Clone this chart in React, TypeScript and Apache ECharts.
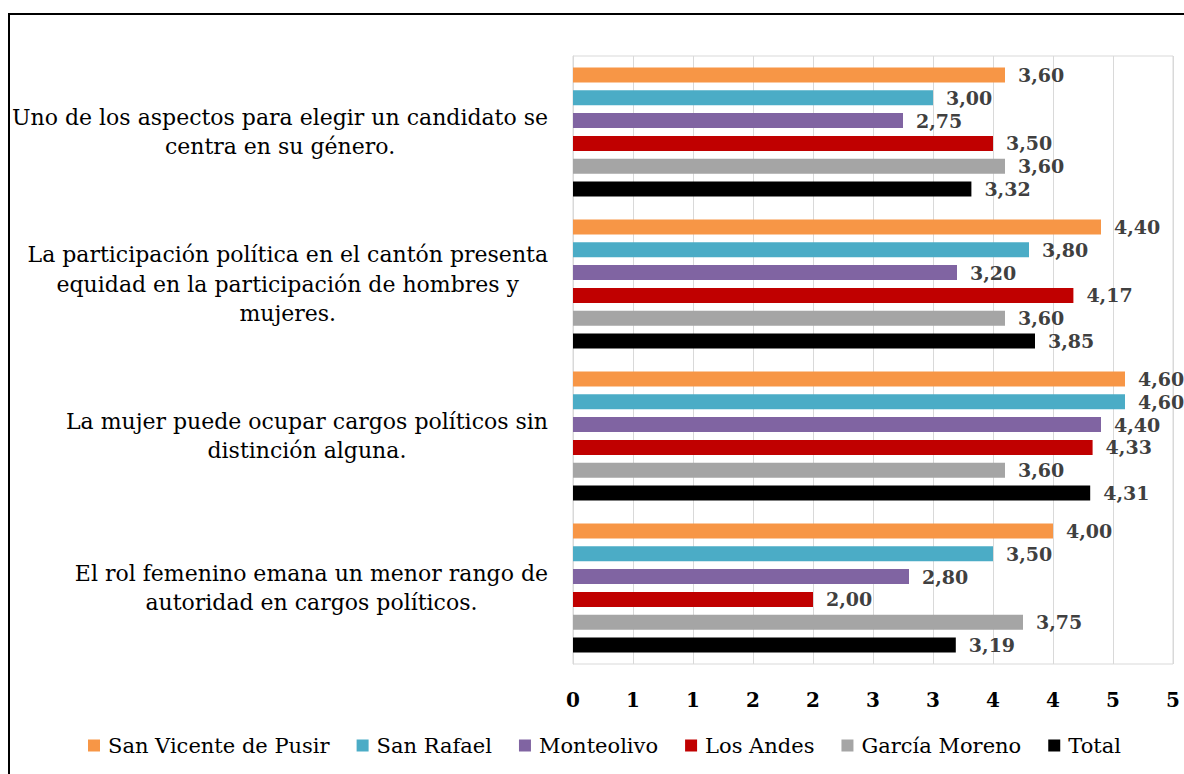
import React, { useEffect, useRef } from "react";
import * as echarts from "echarts";

const categories = [
  "Uno de los aspectos para elegir un candidato se\ncentra en su género.",
  "La participación política en el cantón presenta\nequidad en la participación de hombres y\nmujeres.",
  "La mujer puede ocupar cargos políticos sin\ndistinción alguna.",
  "El rol femenino emana un menor rango de\nautoridad en cargos políticos.",
];

const seriesNames = [
  "San Vicente de Pusir",
  "San Rafael",
  "Monteolivo",
  "Los Andes",
  "García Moreno",
  "Total",
];

const sanVicente = [3.6, 4.4, 4.6, 4.0];
const sanRafael = [3.0, 3.8, 4.6, 3.5];
const monteolivo = [2.75, 3.2, 4.4, 2.8];
const losAndes = [3.5, 4.17, 4.33, 2.0];
const garciaMoreno = [3.6, 3.6, 3.6, 3.75];
const total = [3.32, 3.85, 4.31, 3.19];

const seriesValues = [sanVicente, sanRafael, monteolivo, losAndes, garciaMoreno, total];
const colors = ["#F79646", "#4BACC6", "#8064A2", "#C00000", "#A5A5A5", "#000000"];

const FONT = "'DejaVu Serif', serif";

export default function App() {
  const ref = useRef<HTMLDivElement>(null);
  useEffect(() => {
    if (!ref.current) return;
    const chart = echarts.init(ref.current, undefined, { renderer: "svg" });
    chart.setOption({
      animation: false,
      backgroundColor: "#ffffff",
      graphic: [
        {
          type: "rect",
          shape: { x: 9, y: 14, width: 1400, height: 1000 },
          style: { fill: "none", stroke: "#000000", lineWidth: 2 },
          silent: true,
        },
      ],
      legend: {
        data: seriesNames,
        left: 83,
        top: 730,
        icon: "rect",
        itemWidth: 12,
        itemHeight: 12,
        itemGap: 27,
        textStyle: { fontFamily: FONT, fontSize: 21, color: "#000000", padding: [0, 0, 0, 3] },
      },
      grid: {
        left: 573,
        top: 56,
        width: 600,
        height: 608,
        show: true,
        borderColor: "#d9d9d9",
        borderWidth: 1,
      },
      xAxis: {
        type: "value",
        min: 0,
        max: 5,
        interval: 0.5,
        axisLine: { show: false },
        axisTick: { show: false },
        splitLine: { show: true, lineStyle: { color: "#d9d9d9", width: 1 } },
        axisLabel: {
          margin: 26,
          fontFamily: FONT,
          fontWeight: "bold",
          fontSize: 20,
          color: "#000000",
          formatter: (v: number) => String(Math.round(v)),
        },
      },
      yAxis: {
        type: "category",
        inverse: true,
        data: categories,
        axisLine: { show: true, lineStyle: { color: "#d9d9d9", width: 1 } },
        axisTick: { show: false },
        axisLabel: {
          margin: 25,
          fontFamily: FONT,
          fontSize: 22,
          color: "#000000",
          lineHeight: 29.5,
          formatter: (v: string) =>
            v
              .split("\n")
              .map((l) => `{c|${l}}`)
              .join("\n"),
          rich: {
            c: {
              align: "center",
              fontFamily: FONT,
              fontSize: 22,
              color: "#000000",
              lineHeight: 29.5,
            },
          },
        },
      },
      series: seriesNames.map((name, i) => ({
        name,
        type: "bar",
        data: seriesValues[i],
        barCategoryGap: "15%",
        barGap: "52%",
        itemStyle: { color: colors[i] },
        label: {
          show: true,
          position: "right",
          distance: 13,
          fontFamily: FONT,
          fontWeight: "bold",
          fontSize: 19,
          color: "#404040",
          formatter: (p: any) => p.value.toFixed(2).replace(".", ","),
        },
      })),
    });
    return () => chart.dispose();
  }, []);
  return (
    <div
      ref={ref}
      style={{ position: "fixed", left: 0, top: 0, width: 1184, height: 774 }}
    />
  );
}
